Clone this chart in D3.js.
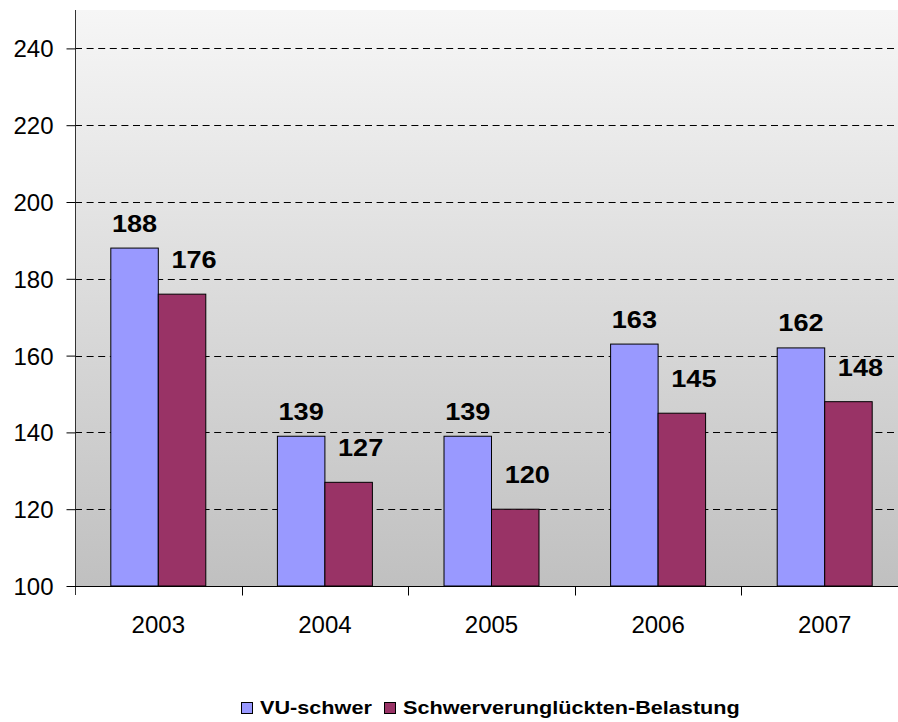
<!DOCTYPE html>
<html>
<head>
<meta charset="utf-8">
<script src="https://cdn.jsdelivr.net/npm/d3@7"></script>
<style>
  html, body { margin: 0; padding: 0; background: #fff; }
  svg { display: block; }
  text { font-family: "Liberation Sans", Arial, sans-serif; fill: #000; }
</style>
</head>
<body>
<svg id="chart" width="898" height="722"></svg>
<script>
const years = ["2003", "2004", "2005", "2006", "2007"];
const seriesNames = ["VU-schwer", "Schwerverunglückten-Belastung"];
const vuSchwer = [188, 139, 139, 163, 162];
const belastung = [176, 127, 120, 145, 148];
const yTicks = [100, 120, 140, 160, 180, 200, 220, 240];
const seriesColors = ["#9999FF", "#993366"];

(function () {
const svg = d3.select("#chart");
const pLeft = 75, pRight = 908, pTop = 10, pBottom = 586;
const labelShift = [{ dx: 0, dy: 16.5 }, { dx: 12, dy: 26 }];

const x0 = d3.scaleBand().domain(years).range([pLeft, pRight]).padding(0);
const x1 = d3.scaleBand().domain(seriesNames).range([0, x0.bandwidth()]).paddingInner(0).paddingOuter(0.754);
const y = d3.scaleLinear().domain([100, 250]).range([pBottom, pTop]);

// background gradient
const defs = svg.append("defs");
const grad = defs.append("linearGradient").attr("id", "bg").attr("x1", 0).attr("y1", 0).attr("x2", 0).attr("y2", 1);
grad.append("stop").attr("offset", "0%").attr("stop-color", "#f6f6f6");
grad.append("stop").attr("offset", "100%").attr("stop-color", "#c0c0c0");
svg.append("rect").attr("x", pLeft).attr("y", pTop).attr("width", pRight - pLeft).attr("height", pBottom - pTop).attr("fill", "url(#bg)");

// gridlines
svg.append("g").selectAll("line").data(yTicks.filter(d => d > 100)).join("line")
  .attr("x1", pLeft).attr("x2", pRight)
  .attr("y1", d => Math.round(y(d)) + 0.5).attr("y2", d => Math.round(y(d)) + 0.5)
  .attr("stroke", "#000").attr("stroke-width", 1).attr("stroke-dasharray", "7,4.6");

// bars
const rows = years.map((yr, i) => ({ year: yr, values: [vuSchwer[i], belastung[i]] }));
const groups = svg.append("g").selectAll("g").data(rows).join("g")
  .attr("transform", d => `translate(${x0(d.year)},0)`);
groups.selectAll("rect").data(d => d.values.map((v, j) => ({ name: seriesNames[j], v, j }))).join("rect")
  .attr("x", d => x1(d.name))
  .attr("y", d => y(d.v))
  .attr("width", x1.bandwidth())
  .attr("height", d => y(100) - y(d.v))
  .attr("fill", d => seriesColors[d.j])
  .attr("stroke", "#000").attr("stroke-width", 1);
groups.selectAll("text").data(d => d.values.map((v, j) => ({ name: seriesNames[j], v, j }))).join("text")
  .attr("transform", d => `translate(${x1(d.name) + x1.bandwidth() / 2 + labelShift[d.j].dx},${y(d.v) - labelShift[d.j].dy}) scale(1.13,1)`)
  .attr("text-anchor", "middle")
  .attr("font-weight", "bold")
  .attr("font-size", 24)
  .text(d => d.v);

// y axis
const yAxis = d3.axisLeft(y).tickValues(yTicks).tickSize(9).tickPadding(13);
const gy = svg.append("g").attr("transform", `translate(${pLeft + 0.5},0)`).call(yAxis);
gy.select(".domain").attr("stroke", "#333").attr("d", `M0,${pTop}V${pBottom + 9}`);
gy.selectAll(".tick line").attr("stroke", "#000");
gy.selectAll(".tick text").attr("font-size", 24).attr("font-family", '"Liberation Sans", Arial, sans-serif').attr("fill", "#000").attr("dy", "0.35em");

// x axis
const xAxis = d3.axisBottom(x0).tickSize(0).tickPadding(29);
const gx = svg.append("g").attr("transform", `translate(0,${pBottom + 0.5})`).call(xAxis);
gx.select(".domain").attr("stroke", "#000").attr("d", `M${pLeft},0H${pRight}`);
gx.selectAll(".tick text").attr("font-size", 24).attr("font-family", '"Liberation Sans", Arial, sans-serif').attr("fill", "#000");
gx.append("g").selectAll("line").data(years.slice(1)).join("line")
  .attr("x1", d => Math.round(x0(d)) + 0.5).attr("x2", d => Math.round(x0(d)) + 0.5)
  .attr("y1", 0).attr("y2", 9).attr("stroke", "#000");

// legend
const legend = svg.append("g");
const legendItems = [{ name: seriesNames[0], x: 241 }, { name: seriesNames[1], x: 384 }];
legendItems.forEach((it, i) => {
  legend.append("rect").attr("x", it.x + 0.5).attr("y", 702.5).attr("width", 11).attr("height", 11)
    .attr("fill", seriesColors[i]).attr("stroke", "#000").attr("stroke-width", 1);
  legend.append("text").attr("transform", `translate(${it.x + 19},713.5) scale(1.14,1)`)
    .attr("font-size", 19).attr("font-weight", "bold").text(it.name);
});
})();
</script>
</body>
</html>
